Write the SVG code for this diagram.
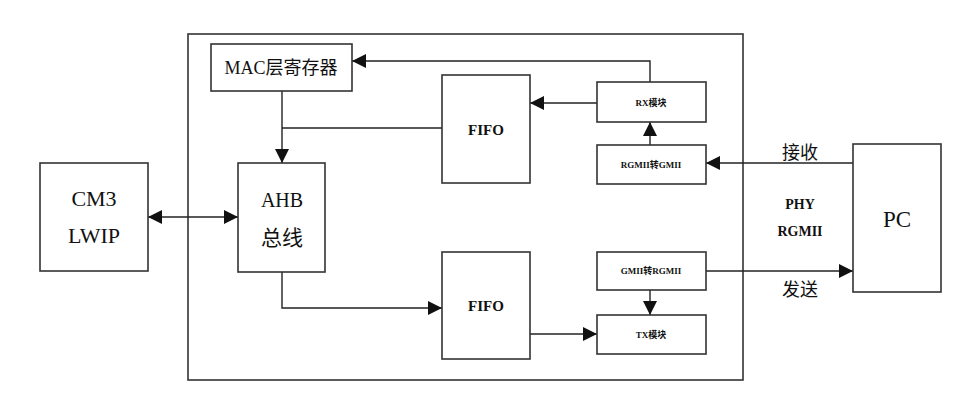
<svg xmlns="http://www.w3.org/2000/svg" width="963" height="412" viewBox="0 0 963 412">
<defs>
<marker id="ah" viewBox="0 0 10 10" refX="10" refY="5" markerWidth="14" markerHeight="14" markerUnits="userSpaceOnUse" orient="auto-start-reverse">
<path d="M0,0 L10,5 L0,10 z" fill="#111"/>
</marker>
<style>
.box{fill:#fff;stroke:#333;stroke-width:1.6}
.ln{fill:none;stroke:#222;stroke-width:1.4}
.t{font-family:"Liberation Serif","Noto Sans CJK SC",serif;fill:#111;text-anchor:middle}
.s{font-family:"Liberation Serif","Noto Sans CJK SC",serif;fill:#111;text-anchor:middle;font-size:9px;font-weight:bold}
</style>
</defs>
<rect width="963" height="412" fill="#fff"/>
<g id="outer"><rect x="188" y="34" width="555" height="346" class="box"/></g>
<g id="connectors">
<path class="ln" d="M650,82 V61 H352" marker-end="url(#ah)"/>
<path class="ln" d="M282,91 V163" marker-end="url(#ah)"/>
<path class="ln" d="M442,128 H282"/>
<path class="ln" d="M597,103 H530" marker-end="url(#ah)"/>
<path class="ln" d="M650,145 V122" marker-end="url(#ah)"/>
<path class="ln" d="M853,163 H706" marker-end="url(#ah)"/>
<path class="ln" d="M706,271 H853" marker-end="url(#ah)"/>
<path class="ln" d="M650,290 V315" marker-end="url(#ah)"/>
<path class="ln" d="M530,334 H597" marker-end="url(#ah)"/>
<path class="ln" d="M282,272 V308 H442" marker-end="url(#ah)"/>
<path class="ln" d="M148,217 H238" marker-start="url(#ah)" marker-end="url(#ah)"/>
</g>
<g id="mac"><rect x="211" y="44" width="141" height="47" class="box"/><text x="281" y="74" class="t" font-size="18">MAC层寄存器</text></g>
<g id="fifo_rx"><rect x="442" y="75" width="88" height="108" class="box"/><text x="486" y="135" class="t" font-size="15" font-weight="bold">FIFO</text></g>
<g id="rx"><rect x="597" y="82" width="109" height="40" class="box"/><text x="651" y="106" class="s">RX模块</text></g>
<g id="rgmii2gmii"><rect x="597" y="145" width="109" height="39" class="box"/><text x="651" y="168" class="s">RGMII转GMII</text></g>
<g id="gmii2rgmii"><rect x="597" y="252" width="109" height="38" class="box"/><text x="651" y="274" class="s">GMII转RGMII</text></g>
<g id="tx"><rect x="597" y="315" width="109" height="39" class="box"/><text x="651" y="338" class="s">TX模块</text></g>
<g id="fifo_tx"><rect x="442" y="252" width="88" height="107" class="box"/><text x="486" y="311" class="t" font-size="15" font-weight="bold">FIFO</text></g>
<g id="ahb"><rect x="238" y="163" width="87" height="109" class="box"/><text x="282" y="207" class="t" font-size="20">AHB</text><text x="282" y="245" class="t" font-size="21">总线</text></g>
<g id="cm3"><rect x="40" y="163" width="108" height="108" class="box"/><text x="94" y="206" class="t" font-size="22">CM3</text><text x="94" y="243" class="t" font-size="22">LWIP</text></g>
<g id="pc"><rect x="853" y="144" width="88" height="148" class="box"/><text x="897" y="227" class="t" font-size="23">PC</text></g>
<g id="labels">
<text x="800" y="159" class="t" font-size="18">接收</text>
<text x="800" y="209" class="t" font-size="14" font-weight="bold">PHY</text>
<text x="800" y="236" class="t" font-size="14" font-weight="bold">RGMII</text>
<text x="800" y="296" class="t" font-size="18">发送</text>
</g>
</svg>
